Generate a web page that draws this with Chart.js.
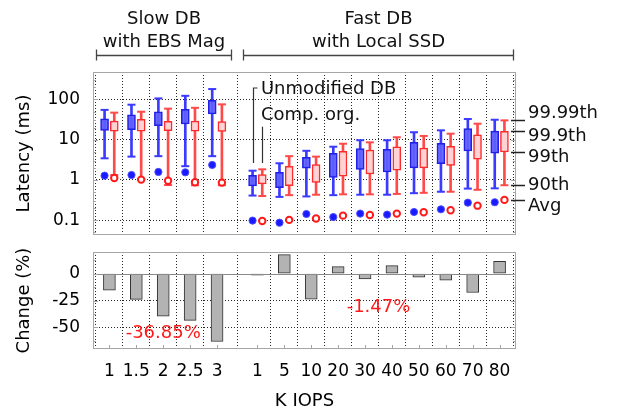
<!DOCTYPE html>
<html><head><meta charset="utf-8">
<script src="https://cdn.jsdelivr.net/npm/chart.js@4"></script>
<style>
html,body{margin:0;padding:0;background:#fff;}
#wrap{position:relative;width:618px;height:415px;}
#wrap canvas{position:absolute;left:0;top:0;}
</style></head><body>
<div id="wrap"><canvas id="topc" width="618" height="415"></canvas><canvas id="botc" width="618" height="415"></canvas></div>
<script>
// ---------------- data ----------------
const slowLabels = ['1', '1.5', '2', '2.5', '3'];
const fastLabels = ['1', '5', '10', '20', '30', '40', '50', '60', '70', '80'];
const groupTitles = [['Slow DB', 'with EBS Mag'], ['Fast DB', 'with Local SSD']];
const latencyTicks = [0.1, 1, 10, 100];
const changeTicks = [-50, -25, 0];
const percentileNames = ['99.99th', '99.9th', '99th', '90th', 'Avg'];

// Unmodified DB (blue)
const unmodP90   = [3.45, 3.8, 3.9, 2.2, 3.9,   0.41, 0.38, 0.39, 0.42, 0.43, 0.43, 0.47, 0.51, 0.61, 0.62];
const unmodP99   = [17, 17.7, 22.3, 24.5, 43.4, 0.71, 0.64, 1.95, 1.16, 1.84, 1.58, 1.99, 2.54, 5.24, 4.6];
const unmodP999  = [33, 41.7, 49.5, 56.8, 95,  1.31, 1.55, 3.66, 4.6, 6.0, 5.76, 8.6, 8.1, 18.8, 16.4];
const unmodP9999 = [55, 74, 106, 123, 181,     1.7, 2.6, 5.3, 6.7, 9.7, 9.7, 15.3, 17.1, 32.6, 31.3];
const unmodAvg   = [1.28, 1.33, 1.58, 1.55, 2.36, 0.098, 0.087, 0.143, 0.12, 0.146, 0.138, 0.16, 0.187, 0.273, 0.28];

// Comp. org. (red)
const compP90   = [1.33, 1.04, 0.75, 0.74, 0.74, 0.40, 0.42, 0.43, 0.44, 0.44, 0.45, 0.48, 0.51, 0.57, 0.74];
const compP99   = [16.4, 16.4, 16.7, 16.4, 16.1, 0.80, 0.72, 0.875, 1.24, 1.41, 1.74, 2.0, 2.31, 3.3, 4.95];
const compP999  = [29, 32, 28.6, 29, 28,       1.36, 2.19, 2.4, 5.15, 5.5, 6.7, 6.2, 6.85, 13.3, 16.1];
const compP9999 = [47, 49.5, 59, 62, 75.5,     1.84, 3.9, 3.8, 7.95, 8.6, 11.5, 12.4, 14.1, 25, 30.2];
const compAvg   = [1.12, 1.02, 0.96, 0.875, 0.86, 0.096, 0.102, 0.11, 0.13, 0.135, 0.146, 0.158, 0.177, 0.23, 0.32];

// Change (%)
const changePct = [-15.5, -24, -39.5, -43.5, -63, -1.5, 17.6, -23.8, 6.5, -5, 7.4, -3.4, -6.2, -17.6, 11.4];
const groupAvgChange = ['-36.85%', '-1.47%'];

// ---------------- layout ----------------
const FONT = "'DejaVu Sans', 'Liberation Sans', sans-serif";
const allLabels = [...slowLabels, ...fastLabels];
const FAST_START = slowLabels.length + 0.5;
const pos = [...slowLabels.map((_, i) => i), ...fastLabels.map((_, i) => FAST_START + i)];
const XMIN = -0.61, XMAX = pos[pos.length - 1] + 0.61;
const OFF = 0.18;
const GRID = 'rgba(0,0,0,0.85)';
const FRAME = '#a6a6a6';

const BLUE = {whisker: '#3b3bff', box: 'rgba(96,96,255,0.9)', boxBorder: '#1f1fe6', avg: '#1a1aff'};
const RED = {whisker: '#ff4a4a', box: '#ffd3d3', boxBorder: '#ff2a2a', avg: '#ff1a1a'};

function boxSeries(off, p90, p99, p999, p9999, avg, c, hollow) {
  const xs = pos.map(p => p + off);
  return [
    {type: 'bar', data: xs.map((x, i) => ({x, y: [p90[i], p9999[i]]})), barThickness: 2,
     backgroundColor: c.whisker, borderWidth: 0, grouped: false, order: 6},
    {type: 'scatter', data: xs.flatMap((x, i) => [{x, y: p90[i]}, {x, y: p9999[i]}]),
     pointStyle: 'line', pointRadius: 4, pointHoverRadius: 4, borderColor: c.whisker, pointBorderWidth: 2, order: 5},
    {type: 'bar', data: xs.map((x, i) => ({x, y: [p99[i], p999[i]]})), barThickness: 8,
     backgroundColor: c.box, borderColor: c.boxBorder, borderWidth: 1.5, borderSkipped: false, grouped: false, order: 4},
    {type: 'scatter', data: xs.map((x, i) => ({x, y: avg[i]})), pointStyle: 'circle',
     pointRadius: hollow ? 3.2 : 3.6, pointHoverRadius: 3.6,
     backgroundColor: hollow ? '#fff' : c.avg, borderColor: hollow ? c.avg : '#4d4dff',
     pointBorderWidth: hollow ? 2 : 1, order: 1}
  ];
}

function frame(ctx, a) {
  ctx.strokeStyle = FRAME; ctx.lineWidth = 1;
  ctx.strokeRect(Math.round(a.left) + 0.5, Math.round(a.top) + 0.5, Math.round(a.width) - 1, Math.round(a.height) - 1);
}

const topDecor = {
  id: 'topDecor',
  afterDraw(chart) {
    const {ctx, chartArea: a, scales: {x, y}} = chart;
    ctx.save();
    frame(ctx, a);
    // log minor ticks (left & right, inside)
    ctx.strokeStyle = FRAME; ctx.lineWidth = 1;
    for (let d = -2; d <= 2; d++) {
      [1, 2, 3, 5].forEach(m => {
        const v = m * Math.pow(10, d);
        if (v < y.min || v > y.max) return;
        const py = Math.round(y.getPixelForValue(v)) + 0.5;
        const len = m === 1 ? 5 : 3;
        ctx.beginPath();
        ctx.moveTo(a.left, py); ctx.lineTo(a.left + len, py);
        ctx.moveTo(a.right, py); ctx.lineTo(a.right - len, py);
        ctx.stroke();
      });
    }
    // group brackets + titles
    const groups = [[pos[0] - 0.51, pos[slowLabels.length - 1] + 0.53], [pos[slowLabels.length] - 0.52, pos[pos.length - 1] + 0.49]];
    ctx.strokeStyle = '#444'; ctx.lineWidth = 1.3;
    ctx.fillStyle = '#111'; ctx.font = '18px ' + FONT; ctx.textAlign = 'center'; ctx.textBaseline = 'alphabetic';
    groups.forEach((g, k) => {
      const x0 = Math.round(x.getPixelForValue(g[0])) + 0.5, x1 = Math.round(x.getPixelForValue(g[1])) + 0.5;
      const ly = 55.5;
      ctx.beginPath();
      ctx.moveTo(x0, ly); ctx.lineTo(x1, ly);
      ctx.moveTo(x0, ly - 6); ctx.lineTo(x0, ly + 5);
      ctx.moveTo(x1, ly - 6); ctx.lineTo(x1, ly + 5);
      ctx.stroke();
      const cx = (x0 + x1) / 2;
      ctx.fillText(groupTitles[k][0], cx, 24);
      ctx.fillText(groupTitles[k][1], cx, 47);
    });
    // series call-outs at first fast category
    const fi = slowLabels.length;
    const bx = Math.round(x.getPixelForValue(pos[fi] - OFF)) + 0.5;
    const rx = Math.round(x.getPixelForValue(pos[fi] + OFF)) + 0.5;
    const lineBottom = y.getPixelForValue(2.64);
    ctx.strokeStyle = '#333'; ctx.lineWidth = 1.2;
    ctx.beginPath();
    const uTop = y.getPixelForValue(192);
    ctx.moveTo(bx + 4, uTop); ctx.lineTo(bx, uTop); ctx.lineTo(bx, lineBottom);
    ctx.moveTo(rx, y.getPixelForValue(21)); ctx.lineTo(rx, lineBottom);
    ctx.stroke();
    ctx.textAlign = 'left'; ctx.fillStyle = '#111';
    const tx = x.getPixelForValue(pos[fi] + 0.13);
    ctx.fillText('Unmodified DB', tx, y.getPixelForValue(136));
    ctx.fillText('Comp. org.', tx, y.getPixelForValue(30.8));
    // percentile key on the right (points at last red box)
    const li = pos.length - 1;
    const keyVals = [compP9999[li], compP999[li], compP99[li], compP90[li], compAvg[li]];
    const textVals = [46, 12.4, 3.7, 0.75, 0.226];
    ctx.strokeStyle = '#222'; ctx.lineWidth = 1.5;
    ctx.textBaseline = 'middle'; ctx.fillStyle = '#111';
    keyVals.forEach((v, k) => {
      const py = Math.round(y.getPixelForValue(v)) + 0.5;
      ctx.beginPath(); ctx.moveTo(a.right - 5, py); ctx.lineTo(a.right + 9, py); ctx.stroke();
      ctx.fillText(percentileNames[k], a.right + 12, y.getPixelForValue(textVals[k]));
    });
    ctx.restore();
  }
};

const botDecor = {
  id: 'botDecor',
  afterDraw(chart) {
    const {ctx, chartArea: a, scales: {x, y}} = chart;
    ctx.save();
    // zero line
    const zy = Math.round(y.getPixelForValue(0)) + 0.5;
    ctx.strokeStyle = '#8a8a8a'; ctx.lineWidth = 1;
    ctx.beginPath(); ctx.moveTo(a.left, zy); ctx.lineTo(a.right, zy); ctx.stroke();
    frame(ctx, a);
    ctx.strokeStyle = FRAME;
    for (let v = -62.5; v <= 12.5; v += 12.5) {
      const py = Math.round(y.getPixelForValue(v)) + 0.5;
      const len = (v % 25 === 0) ? 5 : 3;
      ctx.beginPath();
      ctx.moveTo(a.left, py); ctx.lineTo(a.left + len, py);
      ctx.moveTo(a.right, py); ctx.lineTo(a.right - len, py);
      ctx.stroke();
    }
    pos.forEach(p => {
      const px = Math.round(x.getPixelForValue(p)) + 0.5;
      ctx.beginPath(); ctx.moveTo(px, a.bottom); ctx.lineTo(px, a.bottom - 4); ctx.stroke();
    });
    // group average change
    ctx.fillStyle = '#ff1a1a'; ctx.font = '18px ' + FONT; ctx.textAlign = 'center'; ctx.textBaseline = 'middle';
    ctx.fillText(groupAvgChange[0], x.getPixelForValue(pos[2]), y.getPixelForValue(-55.3));
    ctx.fillText(groupAvgChange[1], x.getPixelForValue(FAST_START + 4.5), y.getPixelForValue(-31));
    ctx.restore();
  }
};

const common = {
  responsive: false, animation: false, devicePixelRatio: 1, events: [],
  plugins: {legend: {display: false}, tooltip: {enabled: false}}
};

new Chart(document.getElementById('topc'), {
  type: 'bar',
  data: {datasets: [
    ...boxSeries(-OFF, unmodP90, unmodP99, unmodP999, unmodP9999, unmodAvg, BLUE, false),
    ...boxSeries(OFF, compP90, compP99, compP999, compP9999, compAvg, RED, true)
  ]},
  options: {
    ...common,
    layout: {padding: {left: 0, right: 102, top: 72, bottom: 180}},
    scales: {
      x: {type: 'linear', min: XMIN, max: XMAX, offset: false,
          afterBuildTicks: s => { s.ticks = pos.map(v => ({value: v})); },
          afterFit: s => { s.height = 0; },
          ticks: {display: false},
          grid: {drawTicks: false, color: GRID, lineWidth: 1},
          border: {display: false, dash: [1, 2]}},
      y: {type: 'logarithmic', min: 0.043, max: 480,
          afterBuildTicks: s => { s.ticks = latencyTicks.map(v => ({value: v})); },
          afterFit: s => { s.width = 93; },
          ticks: {padding: 13, color: '#000', font: {family: FONT, size: 17}, callback: v => String(v)},
          grid: {drawTicks: false, color: GRID, lineWidth: 1},
          border: {display: false, dash: [1, 2]},
          title: {display: true, text: 'Latency (ms)', color: '#000', font: {family: FONT, size: 18}, padding: {top: 14, bottom: 0}}}
    }
  },
  plugins: [topDecor]
});

new Chart(document.getElementById('botc'), {
  type: 'bar',
  data: {datasets: [{
    data: pos.map((p, i) => ({x: p, y: changePct[i]})),
    barThickness: 12, grouped: false,
    backgroundColor: '#b3b3b3', borderColor: '#333', borderWidth: 1, borderSkipped: false
  }]},
  options: {
    ...common,
    layout: {padding: {left: 0, right: 102, top: 252, bottom: 0}},
    scales: {
      x: {type: 'linear', min: XMIN, max: XMAX, offset: false, z: 1,
          afterBuildTicks: s => { s.ticks = pos.map(v => ({value: v})); },
          afterFit: s => { s.height = 66; },
          ticks: {padding: 12, autoSkip: false, maxRotation: 0, color: '#000', font: {family: FONT, size: 17},
                  callback: (v, i) => allLabels[i]},
          grid: {drawTicks: false, color: GRID, lineWidth: 1},
          border: {display: false, dash: [1, 2]},
          title: {display: true, text: 'K IOPS', color: '#000', font: {family: FONT, size: 18}, padding: {top: 0, bottom: 2.5}}},
      y: {type: 'linear', min: -70, max: 20,
          afterBuildTicks: s => { s.ticks = changeTicks.map(v => ({value: v})); },
          afterFit: s => { s.width = 93; },
          ticks: {padding: 13, color: '#000', font: {family: FONT, size: 17}, callback: v => String(v)},
          grid: {drawTicks: false, color: c => (c.tick && c.tick.value === 0) ? 'rgba(0,0,0,0)' : GRID, lineWidth: 1},
          border: {display: false, dash: [1, 2]},
          title: {display: true, text: 'Change (%)', color: '#000', font: {family: FONT, size: 18}, padding: {top: 14, bottom: 0}}}
    }
  },
  plugins: [botDecor]
});
</script>
</body></html>
